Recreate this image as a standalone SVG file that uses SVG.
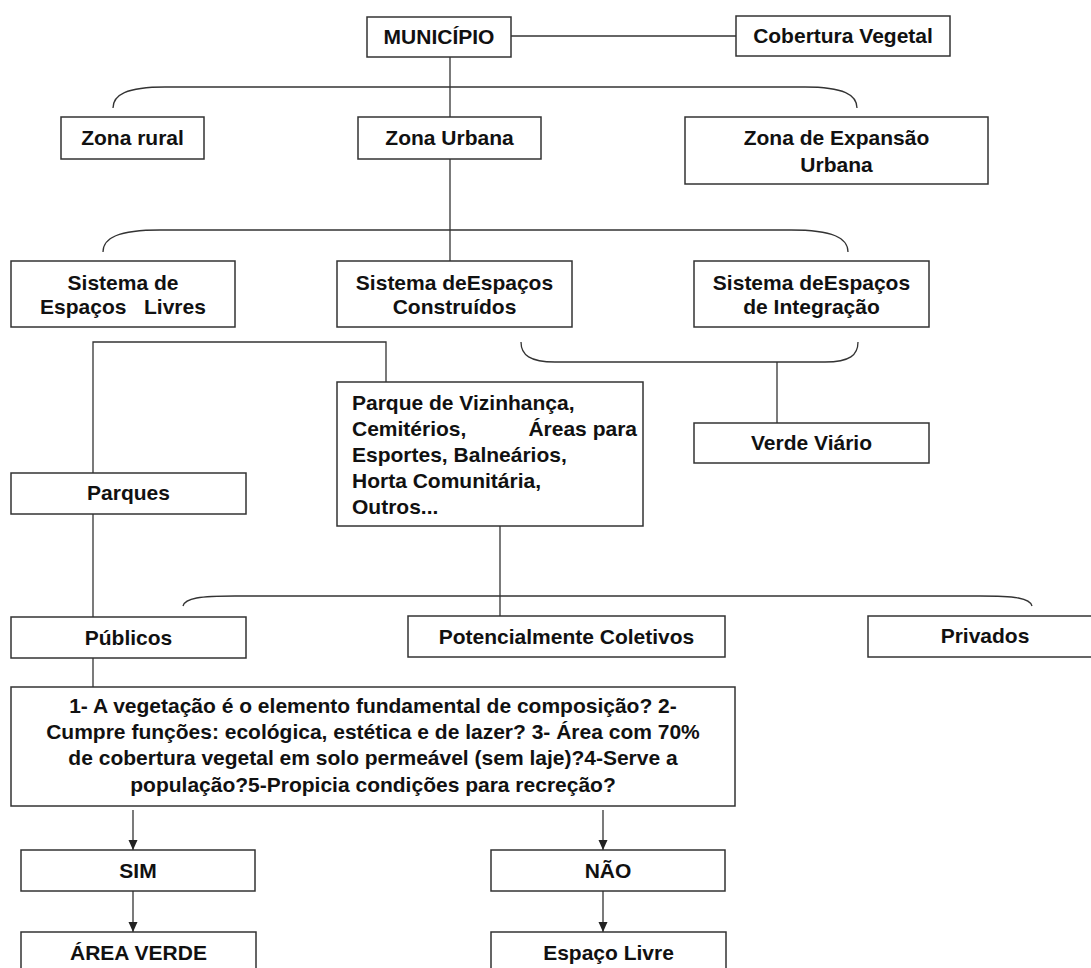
<svg xmlns="http://www.w3.org/2000/svg" width="1091" height="968" viewBox="0 0 1091 968">
<defs>
<style>
.box{fill:#fff;stroke:#333;stroke-width:1.5}
.t{font-family:"Liberation Sans",Arial,sans-serif;font-size:21px;font-weight:bold;fill:#111;text-anchor:middle}
.tl{font-family:"Liberation Sans",Arial,sans-serif;font-size:21px;font-weight:bold;fill:#111}
.c{fill:none;stroke:#333;stroke-width:1.3}
</style>
<marker id="arr" markerWidth="10" markerHeight="10" refX="10" refY="5" orient="auto" markerUnits="userSpaceOnUse">
<path d="M0,0.5 L10,5 L0,9.5 Z" fill="#222"/>
</marker>
</defs>
<rect width="1091" height="968" fill="#fff"/>
<g id="connectors">
<path class="c" d="M511,36 H736"/>
<path class="c" d="M450,57 V117"/>
<path class="c" d="M113,108 C113,95 126,87 165,87 H805 C844,87 857,95 857,108"/>
<path class="c" d="M450,159 V261"/>
<path class="c" d="M103,252 C103,238 118,230 160,230 H791 C833,230 848,238 848,252"/>
<path class="c" d="M93,473 V342 H386 V382"/>
<path class="c" d="M521,342 C521,355 530,362 555,362 H825 C850,362 858,355 858,342"/>
<path class="c" d="M777,362 V423"/>
<path class="c" d="M93,514 V617"/>
<path class="c" d="M500,526 V616"/>
<path class="c" d="M183,606 C185,598 200,596 235,596 H980 C1015,596 1030,598 1032,606"/>
<path class="c" d="M93,658 V687"/>
<path class="c" d="M133,810 V850" marker-end="url(#arr)"/>
<path class="c" d="M133,891 V932" marker-end="url(#arr)"/>
<path class="c" d="M603,810 V850" marker-end="url(#arr)"/>
<path class="c" d="M603,891 V932" marker-end="url(#arr)"/>
</g>
<g id="municipio"><rect class="box" x="367" y="17" width="144" height="40"/><text class="t" x="439" y="44">MUNICÍPIO</text></g>
<g id="cobertura"><rect class="box" x="736" y="16" width="214" height="40"/><text class="t" x="843" y="43">Cobertura Vegetal</text></g>
<g id="zona-rural"><rect class="box" x="61" y="117" width="143" height="42"/><text class="t" x="132.5" y="145">Zona rural</text></g>
<g id="zona-urbana"><rect class="box" x="358" y="117" width="183" height="42"/><text class="t" x="449.5" y="145">Zona Urbana</text></g>
<g id="zona-expansao"><rect class="box" x="685" y="117" width="303" height="67"/><text class="t" x="836.5" y="145">Zona de Expansão</text><text class="t" x="836.5" y="172">Urbana</text></g>
<g id="sist-livres"><rect class="box" x="11" y="261" width="224" height="66"/><text class="t" x="123" y="290">Sistema de</text><text class="t" x="123" y="314" xml:space="preserve">Espaços   Livres</text></g>
<g id="sist-construidos"><rect class="box" x="337" y="261" width="235" height="66"/><text class="t" x="454.5" y="290">Sistema deEspaços</text><text class="t" x="454.5" y="314">Construídos</text></g>
<g id="sist-integracao"><rect class="box" x="694" y="261" width="235" height="66"/><text class="t" x="811.5" y="290">Sistema deEspaços</text><text class="t" x="811.5" y="314">de Integração</text></g>
<g id="parque-viz"><rect class="box" x="337" y="382" width="306" height="144"/>
<text class="tl" x="352" y="410">Parque de Vizinhança,</text>
<text class="tl" x="352" y="436">Cemitérios,</text><text class="tl" x="637" y="436" text-anchor="end">Áreas para</text>
<text class="tl" x="352" y="462">Esportes, Balneários,</text>
<text class="tl" x="352" y="488">Horta Comunitária,</text>
<text class="tl" x="352" y="514">Outros...</text></g>
<g id="verde-viario"><rect class="box" x="694" y="423" width="235" height="40"/><text class="t" x="811.5" y="450">Verde Viário</text></g>
<g id="parques"><rect class="box" x="11" y="473" width="235" height="41"/><text class="t" x="128.5" y="500">Parques</text></g>
<g id="publicos"><rect class="box" x="11" y="617" width="235" height="41"/><text class="t" x="128.5" y="645">Públicos</text></g>
<g id="potencialmente"><rect class="box" x="408" y="616" width="317" height="41"/><text class="t" x="566.5" y="644">Potencialmente Coletivos</text></g>
<g id="privados"><rect class="box" x="868" y="616" width="240" height="41"/><text class="t" x="985" y="643">Privados</text></g>
<g id="criterios"><rect class="box" x="11" y="687" width="724" height="119"/>
<text class="t" x="373" y="713">1- A vegetação é o elemento fundamental de composição? 2-</text>
<text class="t" x="373" y="739">Cumpre funções: ecológica, estética e de lazer? 3- Área com 70%</text>
<text class="t" x="373" y="765">de cobertura vegetal em solo permeável (sem laje)?4-Serve a</text>
<text class="t" x="373" y="792">população?5-Propicia condições para recreção?</text></g>
<g id="sim"><rect class="box" x="21" y="850" width="234" height="41"/><text class="t" x="138" y="878">SIM</text></g>
<g id="nao"><rect class="box" x="491" y="850" width="234" height="41"/><text class="t" x="608" y="878">NÃO</text></g>
<g id="area-verde"><rect class="box" x="21" y="932" width="235" height="50"/><text class="t" x="138.5" y="960">ÁREA VERDE</text></g>
<g id="espaco-livre"><rect class="box" x="491" y="932" width="235" height="50"/><text class="t" x="608.5" y="960">Espaço Livre</text></g>
</svg>
